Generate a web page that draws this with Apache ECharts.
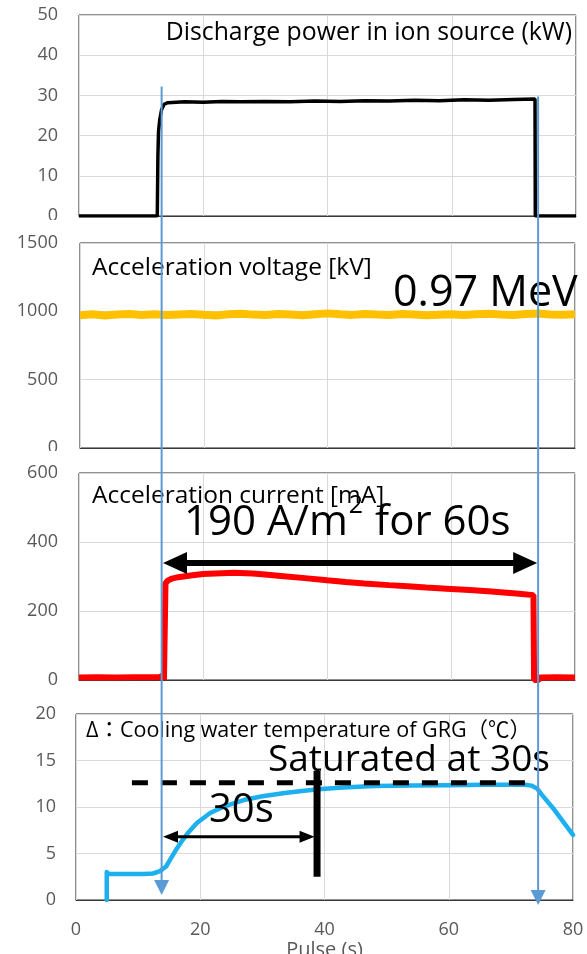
<!DOCTYPE html>
<html>
<head>
<meta charset="utf-8">
<script src="https://cdn.jsdelivr.net/npm/echarts@6/dist/echarts.min.js"></script>
<style>
  html, body { margin: 0; padding: 0; background: #fff; }
  #chart { width: 587px; height: 954px; }
</style>
</head>
<body>
<div id="chart"></div>
<script>
// ---- axis ticks ----
const pulseTicks = [0, 20, 40, 60, 80];
const powerTicks = [0, 10, 20, 30, 40, 50];
const voltageTicks = [0, 500, 1000, 1500];
const currentTicks = [0, 200, 400, 600];
const tempTicks = [0, 5, 10, 15, 20];

// ---- measured traces: [pulse time (s), value] ----
const dischargePower = [
  [0, 0], [12.6, 0], [12.7, 15], [12.8, 21], [13.0, 24], [13.3, 26.5], [13.7, 27.8],
  [14.3, 28.2], [17, 28.4], [20, 28.3], [23, 28.5], [26, 28.4], [30, 28.5], [34, 28.4],
  [38, 28.6], [42, 28.5], [46, 28.7], [50, 28.6], [54, 28.8], [58, 28.7], [62, 28.9],
  [66, 28.8], [70, 29.0], [73.4, 29.1], [73.45, 0], [80, 0]
];

const voltageTime = [0, 2, 4, 6, 8, 10, 12, 14, 16, 18, 20, 22, 24, 26, 28, 30, 32, 34, 36, 38, 40,
  42, 44, 46, 48, 50, 52, 54, 56, 58, 60, 62, 64, 66, 68, 70, 72, 74, 76, 78, 80];
const accelVoltage = [972, 978, 970, 976, 980, 974, 979, 973, 977, 981, 975, 970, 978, 983, 976, 974,
  980, 977, 972, 979, 985, 978, 974, 981, 976, 973, 980, 977, 971, 975, 979, 974, 978, 982, 976,
  973, 980, 984, 977, 975, 978];

const accelCurrent = [
  [0, 7], [3, 8], [6, 7], [9, 8], [12, 8], [13.1, 9], [13.3, 14], [13.6, 14], [13.7, 0],
  [13.9, 0], [13.95, 280], [14.3, 288], [15, 294], [16, 298], [18, 303], [20, 307], [22, 309],
  [25, 311], [28, 309], [30, 306], [33, 301], [36, 296], [40, 289], [43, 284], [46, 280],
  [50, 275], [53, 272], [56, 268], [60, 264], [63, 261], [66, 257], [69, 253], [71, 250],
  [73.3, 246], [73.4, 0], [74.2, 0], [74.3, 7], [77, 8], [80, 7]
];

const waterTemp = [
  [4.95, 0], [4.95, 3.0], [5.3, 2.8], [8, 2.8], [11, 2.8], [12.4, 2.85], [13.5, 3.1],
  [14.5, 3.6], [15.3, 4.5], [16.1, 5.4], [17, 6.3], [18, 7.2], [19.5, 8.3], [21.6, 9.35],
  [24, 10.1], [27, 10.75], [30, 11.15], [33.6, 11.5], [36, 11.7], [39, 11.9], [43, 12.1],
  [48, 12.25], [54, 12.3], [60, 12.35], [66, 12.4], [70, 12.4], [72.3, 12.4], [73.3, 12.3],
  [74.2, 12.0], [75, 11.3], [77, 9.7], [80, 7.0]
];

// ---- annotations (data units) ----
const pulseGuides = [          // beam on / beam off guide arrows
  { t: 13.3, fromKW: 32.2, tipC: 0.55 },
  { t: 73.9, fromKW: 29.7, tipC: -0.55 }
];
const beamSpan = { from: 13.55, to: 73.9, mA: 339 };
const riseSpan = { from: 14.0, to: 38.4, degC: 6.8 };
const saturationLevel = { from: 9.0, to: 72.9, degC: 12.6 };
const saturationMark = { t: 38.8, from: 2.5, to: 13.9 };

const FONT = '"Open Sans", "Noto Sans CJK JP", sans-serif';
const TICK_COLOR = '#595959';
const GRID_LINE = '#d9d9d9';

const panels = [
  { grid: { left: 79, right: 11, top: 15, height: 201 }, ticks: powerTicks, margin: 21 },
  { grid: { left: 80, right: 12, top: 243, height: 205 }, ticks: voltageTicks, margin: 22 },
  { grid: { left: 79, right: 12, top: 473, height: 207 }, ticks: currentTicks, margin: 21 },
  { grid: { left: 76, right: 14, top: 714, height: 186 }, ticks: tempTicks, margin: 20 }
];

const chart = echarts.init(document.getElementById('chart'), null, { renderer: 'canvas' });

const option = {
  animation: false,
  backgroundColor: '#fff',
  textStyle: { fontFamily: FONT },
  grid: panels.map(p => Object.assign({
    show: true, borderColor: '#1f1f1f', borderWidth: 1, backgroundColor: 'transparent',
    containLabel: false, outerBoundsMode: 'none'
  }, p.grid)),
  xAxis: panels.map((p, i) => ({
    type: 'value', gridIndex: i,
    min: pulseTicks[0], max: pulseTicks[pulseTicks.length - 1],
    interval: pulseTicks[1] - pulseTicks[0],
    axisLine: { show: true, lineStyle: { color: '#3a3a3a', width: 1 } },
    axisTick: { show: false },
    axisLabel: {
      show: i === 3, color: TICK_COLOR, fontSize: 18, fontFamily: FONT, margin: 21
    },
    splitLine: { show: true, lineStyle: { color: GRID_LINE, width: 1 } },
    name: i === 3 ? 'Pulse (s)' : '',
    nameLocation: 'middle', nameGap: 39,
    nameTextStyle: { color: TICK_COLOR, fontSize: 20, fontFamily: FONT }
  })),
  yAxis: panels.map((p, i) => ({
    type: 'value', gridIndex: i,
    min: p.ticks[0], max: p.ticks[p.ticks.length - 1],
    interval: p.ticks[1] - p.ticks[0],
    axisLine: { show: false },
    axisTick: { show: false },
    axisLabel: {
      color: TICK_COLOR, fontSize: 18, fontFamily: FONT, margin: p.margin,
      formatter: v => String(v)
    },
    splitLine: { show: true, lineStyle: { color: GRID_LINE, width: 1 } }
  })),
  series: [
    {
      name: 'Discharge power', type: 'line', xAxisIndex: 0, yAxisIndex: 0,
      data: dischargePower, showSymbol: false, z: 3,
      lineStyle: { color: '#000', width: 3.5 }
    },
    {
      name: 'Acceleration voltage', type: 'line', xAxisIndex: 1, yAxisIndex: 1,
      data: voltageTime.map((t, k) => [t, accelVoltage[k]]), showSymbol: false, z: 3,
      lineStyle: { color: '#FFC000', width: 8 }
    },
    {
      name: 'Acceleration current', type: 'line', xAxisIndex: 2, yAxisIndex: 2,
      data: accelCurrent, showSymbol: false, z: 3,
      lineStyle: { color: '#FF0000', width: 6 }
    },
    {
      name: 'Cooling water temperature', type: 'line', xAxisIndex: 3, yAxisIndex: 3,
      data: waterTemp, showSymbol: false, z: 3,
      lineStyle: { color: '#1CB0EE', width: 4.5, cap: 'round', join: 'round' }
    }
  ]
};

chart.setOption(option);

// ---- overlay drawing (arrows, guides, labels) ----
const px = (g, x, y) => chart.convertToPixel({ gridIndex: g }, [x, y]);

function doubleArrow(x1, x2, y, shaft, headLen, headW) {
  return [
    { type: 'line', z: 20, shape: { x1: x1 + headLen - 2, y1: y, x2: x2 - headLen + 2, y2: y },
      style: { stroke: '#000', lineWidth: shaft } },
    { type: 'polygon', z: 20, shape: { points: [[x1, y], [x1 + headLen, y - headW / 2], [x1 + headLen, y + headW / 2]] },
      style: { fill: '#000' } },
    { type: 'polygon', z: 20, shape: { points: [[x2, y], [x2 - headLen, y - headW / 2], [x2 - headLen, y + headW / 2]] },
      style: { fill: '#000' } }
  ];
}

function label(text, x, y, size, align, rich) {
  return {
    type: 'text', z: 25, x: x, y: y,
    style: {
      text: text, fill: '#000', fontSize: size, fontFamily: FONT,
      align: align || 'left', verticalAlign: 'middle', rich: rich
    }
  };
}

const elements = [];

// panel titles and callouts
elements.push(label('Discharge power in ion source (kW)', 572, 33, 24.8, 'right'));
elements.push(label('Acceleration voltage [kV]', 92, 268, 24.5));
elements.push(label('0.97 MeV', 393, 294, 43));
elements.push(label('Acceleration current [mA]', 92, 496, 24.5));
elements.push(label('{big|190 A/m}{sup|2}{big| for 60s}', 184, 523, 42, 'left', {
  big: { fontSize: 42, fontFamily: FONT, fill: '#000', verticalAlign: 'middle' },
  sup: { fontSize: 25, fontFamily: FONT, fill: '#000', verticalAlign: 'middle', padding: [0, 1, 34, 1] }
}));
elements.push(label('Δ：Cooling water temperature of GRG（℃）', 86, 731, 21.5));
elements.push(label('Saturated at 30s', 268, 760, 37));
elements.push(label('30s', 209, 811, 40));

// 60 s beam span
{
  const a = px(2, beamSpan.from, beamSpan.mA);
  const b = px(2, beamSpan.to, beamSpan.mA);
  elements.push(...doubleArrow(a[0], b[0], a[1], 6, 24, 22));
}

// 30 s rise span
{
  const a = px(3, riseSpan.from, riseSpan.degC);
  const b = px(3, riseSpan.to, riseSpan.degC);
  elements.push(...doubleArrow(a[0], b[0], a[1], 3, 15, 12));
}

// saturation level (dashed) and marker bar
{
  const a = px(3, saturationLevel.from, saturationLevel.degC);
  const b = px(3, saturationLevel.to, saturationLevel.degC);
  elements.push({
    type: 'line', z: 18, shape: { x1: a[0], y1: a[1], x2: b[0], y2: b[1] },
    style: { stroke: '#000', lineWidth: 5, lineDash: [16, 13] }
  });
  const c = px(3, saturationMark.t, saturationMark.from);
  const d = px(3, saturationMark.t, saturationMark.to);
  elements.push({
    type: 'line', z: 19, shape: { x1: c[0], y1: c[1], x2: d[0], y2: d[1] },
    style: { stroke: '#000', lineWidth: 7 }
  });
}

// beam on / off guides running through all panels
pulseGuides.forEach(g => {
  const top = px(0, g.t, g.fromKW);
  const tipY = px(3, 0, g.tipC)[1];
  const x = top[0];
  const headH = 15, headW = 15;
  elements.push({
    type: 'line', z: 30, shape: { x1: x, y1: top[1], x2: x, y2: tipY - headH + 1 },
    style: { stroke: '#5B9BD5', lineWidth: 2 }
  });
  elements.push({
    type: 'polygon', z: 30,
    shape: { points: [[x - headW / 2, tipY - headH], [x + headW / 2, tipY - headH], [x, tipY]] },
    style: { fill: '#5B9BD5' }
  });
});

// the lower halves of the "0" labels of the two upper panels sit under the next panel
elements.push({ type: 'rect', z: 40, shape: { x: 0, y: 220, width: 74, height: 15 }, style: { fill: '#fff' } });
elements.push({ type: 'rect', z: 40, shape: { x: 0, y: 451, width: 74, height: 14 }, style: { fill: '#fff' } });

chart.setOption({ graphic: { elements: elements } });
</script>
</body>
</html>
